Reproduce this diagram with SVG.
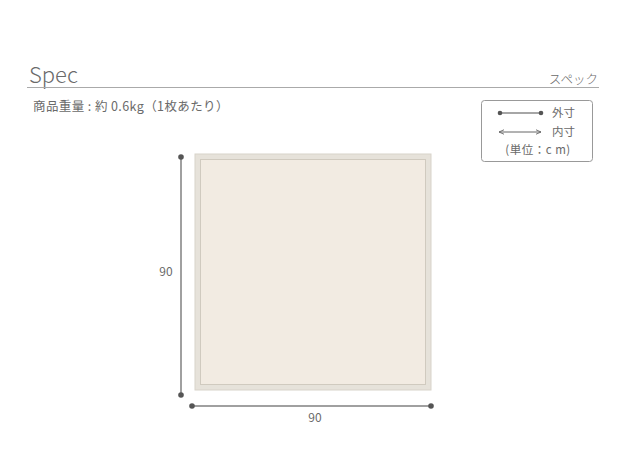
<svg xmlns="http://www.w3.org/2000/svg" width="625" height="473" viewBox="0 0 625 473">
<style>
.t{font-family:"Noto Sans CJK JP","Noto Sans",sans-serif;fill:#6a6a6a}
.dim{stroke:#a0a0a0;stroke-width:2;fill:none}
.dot{fill:#555}
</style>
<defs>
<marker id="ah" viewBox="0 0 10 10" refX="9" refY="5" markerWidth="6" markerHeight="6" orient="auto-start-reverse">
<path d="M0,1 L9,5 L0,9" fill="none" stroke="#666" stroke-width="1.5"/>
</marker>
</defs>
<rect width="625" height="473" fill="#fff"/>
<g id="header">
<text x="29" y="83" class="t" font-size="22" font-family="Noto Sans" style="font-weight:300">Spec</text>
<line x1="27" y1="87.5" x2="599" y2="87.5" stroke="#aaa" stroke-width="1"/>
<text x="598" y="84" class="t" font-size="12.5" text-anchor="end" style="font-weight:300">スペック</text>
<text x="33" y="111" class="t" font-size="12.5" letter-spacing="0.4">商品重量 : 約 0.6kg（1枚あたり）</text>
</g>
<g id="legend">
<rect x="481.5" y="100.5" width="111" height="61" rx="3" fill="#fff" stroke="#999"/>
<line x1="500" y1="113" x2="541" y2="113" stroke="#888" stroke-width="1.5"/>
<circle cx="500" cy="113" r="2.3" class="dot"/>
<circle cx="541" cy="113" r="2.3" class="dot"/>
<text x="552" y="117" class="t" font-size="11.5">外寸</text>
<line x1="499" y1="132" x2="541" y2="132" stroke="#666" stroke-width="1" marker-start="url(#ah)" marker-end="url(#ah)"/>
<text x="552" y="136" class="t" font-size="11.5">内寸</text>
<text x="538" y="154" class="t" font-size="11.5" text-anchor="middle" letter-spacing="0.5">(単位：c m)</text>
</g>
<g id="mat">
<rect x="195" y="154" width="236" height="236" fill="#e6e2da" stroke="#d8d3ca" stroke-width="1"/>
<rect x="200.5" y="159.5" width="225" height="225" fill="#f2ebe2" stroke="#d0cabf" stroke-width="1"/>
</g>
<g id="connectors">
<line x1="181" y1="157" x2="181" y2="395" class="dim"/>
<circle cx="181" cy="157" r="2.8" class="dot"/>
<circle cx="181" cy="395" r="2.8" class="dot"/>
<line x1="192" y1="406" x2="431" y2="406" class="dim"/>
<circle cx="192" cy="406" r="2.8" class="dot"/>
<circle cx="431" cy="406" r="2.8" class="dot"/>
</g>
<g id="labels">
<text x="166" y="276" class="t" font-size="12" text-anchor="middle" font-family="Noto Sans">90</text>
<text x="315" y="422" class="t" font-size="12" text-anchor="middle" font-family="Noto Sans">90</text>
</g>
</svg>
